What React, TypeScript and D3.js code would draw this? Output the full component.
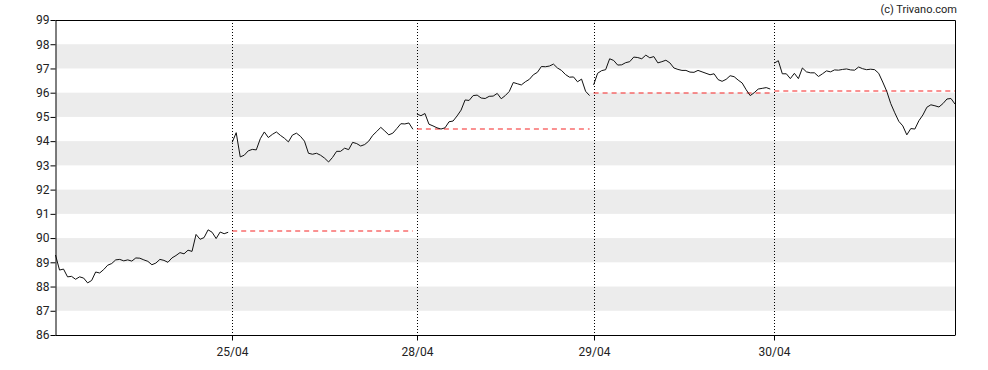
import React, { useEffect, useRef } from 'react';
import * as d3 from 'd3';

// intraday prices, one array per trading day
const day1 = [89.30, 88.68, 88.72, 88.40, 88.42, 88.30, 88.40, 88.35, 88.15, 88.25, 88.60, 88.56, 88.70, 88.88, 88.95, 89.10, 89.12, 89.06, 89.10, 89.05, 89.18, 89.17, 89.10, 89.04, 88.90, 88.97, 89.12, 89.08, 89.00, 89.18, 89.28, 89.40, 89.35, 89.50, 89.45, 90.15, 89.95, 90.02, 90.34, 90.24, 89.98, 90.25, 90.18, 90.24];
const day2 = [93.95, 94.35, 93.35, 93.42, 93.60, 93.66, 93.64, 94.10, 94.38, 94.15, 94.28, 94.38, 94.24, 94.12, 93.97, 94.25, 94.33, 94.20, 94.00, 93.50, 93.46, 93.50, 93.42, 93.30, 93.14, 93.33, 93.58, 93.58, 93.71, 93.65, 93.95, 93.90, 93.80, 93.86, 94.00, 94.24, 94.40, 94.57, 94.42, 94.26, 94.33, 94.52, 94.72, 94.71, 94.75, 94.49];
const day3 = [95.12, 95.05, 95.14, 94.70, 94.63, 94.55, 94.50, 94.55, 94.80, 94.83, 95.04, 95.28, 95.70, 95.68, 95.88, 95.90, 95.78, 95.76, 95.85, 95.86, 95.97, 95.75, 95.88, 96.05, 96.42, 96.37, 96.32, 96.45, 96.55, 96.74, 96.84, 97.08, 97.07, 97.10, 97.18, 97.02, 96.92, 96.75, 96.64, 96.65, 96.45, 96.56, 96.06, 95.88];
const day4 = [96.32, 96.80, 96.91, 96.95, 97.40, 97.33, 97.14, 97.15, 97.24, 97.28, 97.47, 97.45, 97.40, 97.55, 97.44, 97.49, 97.23, 97.28, 97.34, 97.23, 97.02, 96.96, 96.92, 96.92, 96.85, 96.84, 96.92, 96.86, 96.80, 96.74, 96.78, 96.54, 96.47, 96.55, 96.70, 96.66, 96.52, 96.40, 96.12, 95.88, 96.00, 96.15, 96.18, 96.21, 96.15];
const day5 = [97.22, 97.32, 96.78, 96.78, 96.58, 96.80, 96.58, 97.02, 96.86, 96.82, 96.82, 96.67, 96.78, 96.90, 96.86, 96.94, 96.93, 96.96, 96.98, 96.94, 96.93, 97.06, 96.99, 96.95, 96.97, 96.95, 96.80, 96.44, 96.06, 95.55, 95.17, 94.82, 94.63, 94.26, 94.52, 94.50, 94.84, 95.08, 95.40, 95.50, 95.46, 95.41, 95.55, 95.74, 95.76, 95.53];

const days = [day1, day2, day3, day4, day5];
const dayLabels = ['24/04', '25/04', '28/04', '29/04', '30/04'];
// previous close shown as dashed reference for each day (null = none)
const prevClose = [null, 90.29, 94.49, 95.97, 96.07];
const yTicks = [86, 87, 88, 89, 90, 91, 92, 93, 94, 95, 96, 97, 98, 99];

const W = 988, H = 370;
const m = { left: 55.5, right: 33, top: 20, bottom: 35 };

export default function App() {
  const ref = useRef<SVGSVGElement>(null);

  useEffect(() => {
    const svg = d3.select(ref.current);
    svg.selectAll('*').remove();

    const pts: { i: number; v: number }[] = [];
    const starts: number[] = [];
    days.forEach(d => {
      starts.push(pts.length);
      d.forEach(v => pts.push({ i: pts.length, v }));
    });
    const n = pts.length;

    const x = d3.scaleLinear().domain([0, n - 1]).range([m.left, W - m.right]);
    const y = d3.scaleLinear().domain([86, 99]).range([H - m.bottom, m.top]);

    const font = 'Roboto, "Liberation Sans", Arial, sans-serif';

    // gray bands
    svg.append('g')
      .selectAll('rect')
      .data(yTicks.filter(t => t % 2 === 1 && t < 99))
      .join('rect')
      .attr('x', m.left)
      .attr('width', W - m.right - m.left)
      .attr('y', d => y(d + 1))
      .attr('height', d => y(d) - y(d + 1))
      .attr('fill', '#ececec');

    // dotted day separators
    svg.append('g')
      .selectAll('line')
      .data(starts.slice(1))
      .join('line')
      .attr('x1', d => Math.round(x(d)) + 0.5)
      .attr('x2', d => Math.round(x(d)) + 0.5)
      .attr('y1', m.top)
      .attr('y2', H - m.bottom)
      .attr('stroke', '#000')
      .attr('stroke-dasharray', '1,2');

    // previous close dashed lines
    const refs = days
      .map((d, k) => ({ c: prevClose[k], s: starts[k], e: starts[k] + d.length - 1 }))
      .filter(d => d.c != null);
    svg.append('g')
      .selectAll('line')
      .data(refs)
      .join('line')
      .attr('x1', d => x(d.s))
      .attr('x2', d => x(d.e))
      .attr('y1', d => Math.round(y(d.c as number)))
      .attr('y2', d => Math.round(y(d.c as number)))
      .style('stroke', '#f52424')
      .style('stroke-width', '1.2px')
      .style('stroke-dasharray', '5,4');

    // price line, broken between days
    const line = d3.line<{ i: number; v: number }>().x(d => x(d.i)).y(d => y(d.v));
    svg.append('g')
      .selectAll('path')
      .data(days.map((d, k) => pts.slice(starts[k], starts[k] + d.length)))
      .join('path')
      .attr('d', d => line(d))
      .attr('fill', 'none')
      .attr('stroke', '#111')
      .attr('stroke-width', 1);

    // frame
    svg.append('path')
      .attr('d', `M${m.left},${m.top + 0.5}H${W - m.right + 0.5}V${H - m.bottom}`)
      .attr('fill', 'none')
      .attr('stroke', '#000');

    const yAxis = d3.axisLeft(y).tickValues(yTicks).tickSize(5).tickSizeOuter(0).tickFormat(d3.format('d'));
    svg.append('g')
      .attr('transform', `translate(${m.left},0)`)
      .call(yAxis)
      .call(g => g.selectAll('text').attr('font-size', 12).attr('font-family', font).attr('fill', '#222').attr('x', -6));

    const xAxis = d3.axisBottom(x)
      .tickValues(starts.slice(1))
      .tickSize(5)
      .tickSizeOuter(0)
      .tickFormat((d, i) => dayLabels[i + 1]);
    svg.append('g')
      .attr('transform', `translate(0,${H - m.bottom + 0.5})`)
      .call(xAxis)
      .call(g => g.select('.domain').attr('d', `M${m.left},0H${W - m.right + 0.5}`))
      .call(g => g.selectAll('.tick').attr('transform', (d: any) => `translate(${Math.round(x(d)) + 0.5},0)`))
      .call(g => g.selectAll('text').attr('font-size', 12).attr('font-family', font).attr('fill', '#222').attr('dy', '1.05em'));

    svg.append('text')
      .attr('x', W - 31)
      .attr('y', 13)
      .attr('text-anchor', 'end')
      .attr('font-size', 11)
      .attr('font-family', font)
      .attr('fill', '#222')
      .text('(c) Trivano.com');
  }, []);

  return (
    <svg ref={ref} width={W} height={H} style={{ position: 'absolute', left: 0, top: 0, background: '#fff' }} />
  );
}
